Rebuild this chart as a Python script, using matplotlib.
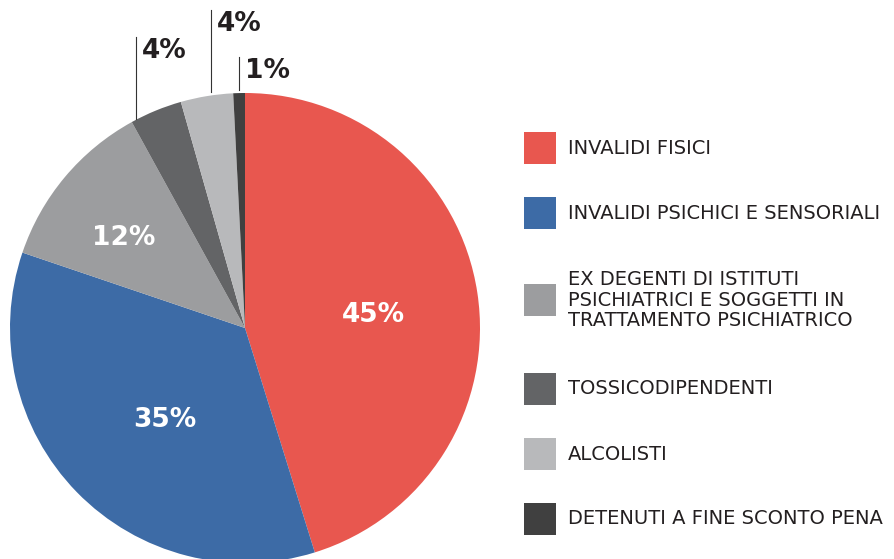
import matplotlib as mlp
mlp.use('Agg')
import matplotlib.pyplot as plt
from matplotlib.patches import Rectangle
import numpy as np

# data (slice sizes, labels as printed)
categories = ["INVALIDI FISICI",
              "INVALIDI PSICHICI E SENSORIALI",
              "EX DEGENTI DI ISTITUTI\nPSICHIATRICI E SOGGETTI IN\nTRATTAMENTO PSICHIATRICO",
              "TOSSICODIPENDENTI",
              "ALCOLISTI",
              "DETENUTI A FINE SCONTO PENA"]
values = [45.2, 35.0, 11.8, 3.6, 3.6, 0.8]
pct_labels = ["45%", "35%", "12%", "4%", "4%", "1%"]
colors = ["#E8574F", "#3D6BA6", "#9C9D9F", "#636466", "#B8B9BB", "#404040"]

W, H = 895, 559
center = (245, H - 328)
radius = 235
txt_color = "#231F20"

fig = plt.figure(figsize=(W / 100, H / 100), dpi=100)
ax = fig.add_axes([0, 0, 1, 1])

wedges, _ = ax.pie(values, colors=colors, startangle=90, counterclock=False,
                   center=center, radius=radius, wedgeprops=dict(linewidth=0))
ax.set_xlim(0, W)
ax.set_ylim(0, H)
ax.set_aspect('equal')
ax.axis('off')

# labels inside the big slices: (fraction of radius, angle nudge in deg)
inside = [(0.55, -1.6), (0.51, 4.0), (0.65, 2.5)]
for i, (frac, nudge) in enumerate(inside):
    w = wedges[i]
    ang = np.deg2rad((w.theta1 + w.theta2) / 2 + nudge)
    x = center[0] + frac * radius * np.cos(ang)
    y = center[1] + frac * radius * np.sin(ang) - 3
    ax.text(x, y, pct_labels[i], color="white", fontsize=19, fontweight="bold",
            ha="center", va="center")

# small slices: vertical leader lines + labels (pixel layout, y from top)
leaders = {3: (136, 37, 119), 4: (211, 10, 92), 5: (239, 57, 90)}
for i, (lx, ytop, ybot) in leaders.items():
    ax.plot([lx, lx], [H - ytop, H - ybot], color="#333333", lw=0.8)
    ax.text(lx + 6, H - ytop - 1, pct_labels[i], color=txt_color, fontsize=19,
            fontweight="bold", ha="left", va="top")

# legend, drawn by hand
sq = 32
lx0 = 524
yc = 148
prev_extra = 0
for i, (lab, col) in enumerate(zip(categories, colors)):
    extra = lab.count("\n")
    if i > 0:
        yc += 65 + 11 * extra + 12 * prev_extra
    prev_extra = extra
    ax.add_patch(Rectangle((lx0, H - yc - sq / 2), sq, sq, facecolor=col, lw=0))
    ax.text(lx0 + sq + 12, H - yc, lab, color=txt_color, fontsize=14,
            ha="left", va="center", linespacing=1.13)

fig.savefig("out.png", dpi=100)
